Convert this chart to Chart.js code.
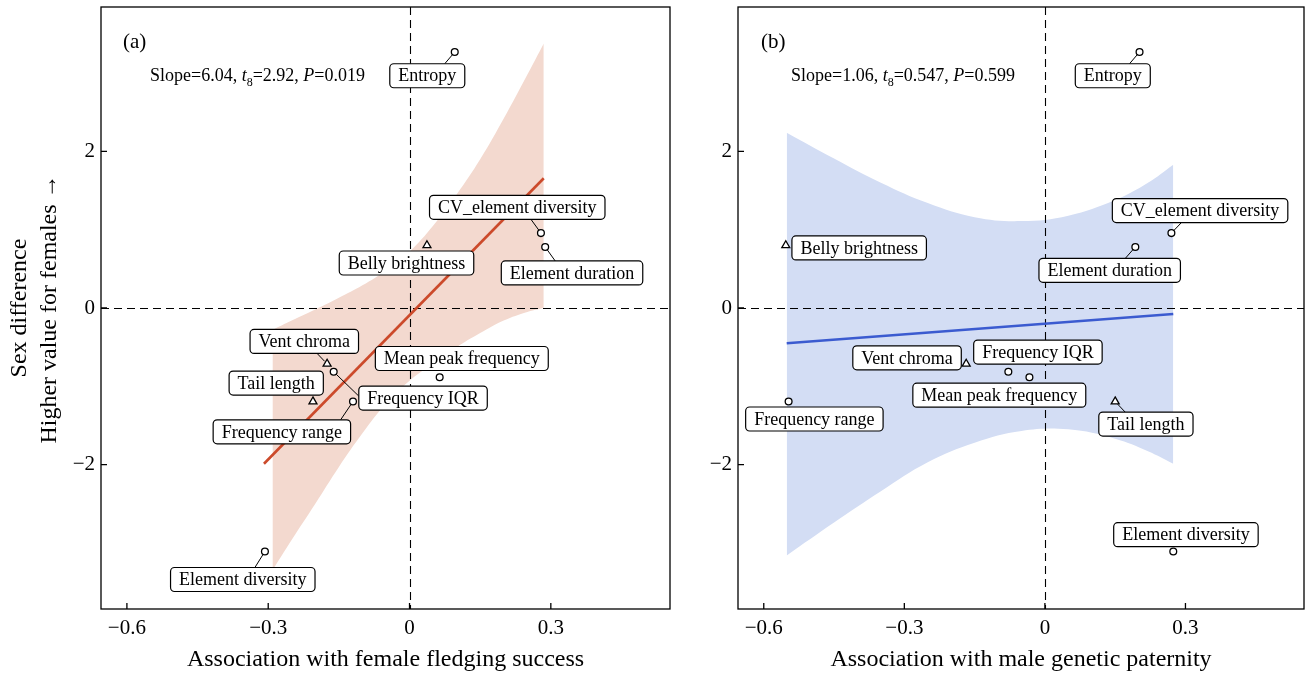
<!DOCTYPE html>
<html>
<head>
<meta charset="utf-8">
<script src="https://cdn.jsdelivr.net/npm/chart.js@4.4.1/dist/chart.umd.min.js"></script>
<style>
  html, body { margin: 0; padding: 0; background: #fff; }
  #wrap { position: relative; width: 1306px; height: 674px; }
  canvas { position: absolute; top: 0; }
  #panelA { left: 0; }
  #panelB { left: 672px; }
</style>
</head>
<body>
<div id="wrap">
  <canvas id="panelA" width="672" height="674"></canvas>
  <canvas id="panelB" width="634" height="674"></canvas>
</div>
<script>
// traits, shared by both panels
const traits = ['Entropy', 'CV_element diversity', 'Element duration', 'Belly brightness', 'Vent chroma',
  'Frequency IQR', 'Mean peak frequency', 'Tail length', 'Frequency range', 'Element diversity'];
const traitShape = ['circle', 'circle', 'circle', 'triangle', 'triangle',
  'circle', 'circle', 'triangle', 'circle', 'circle'];
const sexDiff = [3.27, 0.957, 0.78, 0.80, -0.714, -0.815, -0.884, -1.195, -1.195, -3.11];

// (a) female fledging success
const fledging = [0.096, 0.279, 0.288, 0.037, -0.175, -0.161, 0.064, -0.205, -0.120, -0.307];
const fitAX = [-0.309, 0.285];
const fitAY = [-1.99, 1.657];
const bandAX = [-0.291, -0.25, -0.2, -0.15, -0.1, -0.05, 0, 0.05, 0.1, 0.15, 0.2, 0.25, 0.285];
const bandAUp = [-0.28, -0.16, -0.02, 0.13, 0.29, 0.48, 0.72, 1.05, 1.45, 1.90, 2.42, 2.98, 3.38];
const bandALo = [-3.35, -2.96, -2.50, -2.03, -1.60, -1.22, -0.93, -0.71, -0.50, -0.32, -0.16, -0.05, 0.0];

// (b) male genetic paternity
const paternity = [0.202, 0.270, 0.193, -0.553, -0.168, -0.078, -0.033, 0.150, -0.547, 0.274];
const fitBX = [-0.551, 0.274];
const fitBY = [-0.45, -0.077];
const bandBX = [-0.551, -0.45, -0.35, -0.25, -0.15, -0.05, 0.05, 0.15, 0.22, 0.274];
const bandBUp = [2.24, 1.91, 1.60, 1.34, 1.16, 1.11, 1.18, 1.38, 1.60, 1.83];
const bandBLo = [-3.16, -2.74, -2.34, -1.97, -1.72, -1.57, -1.55, -1.67, -1.83, -1.99];

// ticks
const xTickValues = [-0.6, -0.3, 0, 0.3];
const xTickLabels = ['\u22120.6', '\u22120.3', '0', '0.3'];
const yTickValues = [-2, 0, 2];
const yTickLabels = ['\u22122', '0', '2'];

// where the repelled label boxes sit (box centres, data units)
const labelPosA = [[0.0377, 2.967], [0.2287, 1.286], [0.345, 0.448], [-0.0064, 0.575], [-0.2234, -0.427],
  [0.0287, -1.151], [0.111, -0.645], [-0.283, -0.959], [-0.271, -1.582], [-0.354, -3.468]];
const labelPosB = [[0.1449, 2.967], [0.3312, 1.244], [0.1383, 0.481], [-0.3964, 0.767], [-0.2942, -0.636],
  [-0.0149, -0.563], [-0.0973, -1.113], [0.2156, -1.483], [-0.492, -1.418], [0.301, -2.895]];

const FONT = '"Liberation Serif", "Times New Roman", serif';
const X_MIN = -0.655, X_MAX = 0.553, Y_MIN = -3.845, Y_MAX = 3.845;

function noPad(s) {
  s.paddingTop = 0; s.paddingBottom = 0; s.paddingLeft = 0; s.paddingRight = 0;
}

function drawZeroLines(chart) {
  const {ctx, chartArea: a, scales} = chart;
  const x0 = Math.round(scales.x.getPixelForValue(0)) + 0.5;
  const y0 = Math.round(scales.y.getPixelForValue(0)) + 0.5;
  ctx.save();
  ctx.strokeStyle = '#000';
  ctx.lineWidth = 1.1;
  ctx.setLineDash([8, 5]);
  ctx.beginPath();
  ctx.moveTo(a.left, y0); ctx.lineTo(a.right, y0);
  ctx.moveTo(x0, a.top); ctx.lineTo(x0, a.bottom);
  ctx.stroke();
  ctx.restore();
}

function drawFrame(chart) {
  const {ctx, chartArea: a, scales} = chart;
  ctx.save();
  ctx.strokeStyle = '#000';
  ctx.lineWidth = 1.3;
  ctx.strokeRect(a.left, a.top, a.right - a.left, a.bottom - a.top);
  ctx.beginPath();
  xTickValues.forEach(v => {
    const x = scales.x.getPixelForValue(v);
    ctx.moveTo(x, a.bottom); ctx.lineTo(x, a.bottom - 6);
  });
  yTickValues.forEach(v => {
    const y = scales.y.getPixelForValue(v);
    ctx.moveTo(a.left, y); ctx.lineTo(a.left + 6, y);
  });
  ctx.stroke();
  ctx.restore();
}

function drawLabels(chart, opt) {
  const {ctx, scales} = chart;
  ctx.save();
  ctx.font = '18px ' + FONT;
  traits.forEach((name, i) => {
    const px = scales.x.getPixelForValue(opt.x[i]);
    const py = scales.y.getPixelForValue(sexDiff[i]);
    const bx = scales.x.getPixelForValue(opt.labels[i][0]);
    const by = scales.y.getPixelForValue(opt.labels[i][1]);
    const w = ctx.measureText(name).width + 17;
    const h = 24;
    const x1 = bx - w / 2, x2 = bx + w / 2, y1 = by - h / 2, y2 = by + h / 2;
    let cx = Math.min(Math.max(px, x1), x2);
    let cy = Math.min(Math.max(py, y1), y2);
    const dist = Math.hypot(px - cx, py - cy);
    if (dist > 9) {
      if (Math.abs(py - cy) >= Math.abs(px - cx)) {
        cx += Math.sign(bx - cx) * Math.min(10, Math.abs(bx - cx));
      } else {
        cy += Math.sign(by - cy) * Math.min(10, Math.abs(by - cy));
      }
      const d = Math.hypot(cx - px, cy - py);
      const r = 3.6;
      ctx.strokeStyle = '#000';
      ctx.lineWidth = 1;
      ctx.beginPath();
      ctx.moveTo(px + (cx - px) / d * r, py + (cy - py) / d * r);
      ctx.lineTo(cx, cy);
      ctx.stroke();
    }
    ctx.beginPath();
    ctx.roundRect(x1, y1, w, h, 4);
    ctx.fillStyle = '#fff';
    ctx.fill();
    ctx.lineWidth = 1.2;
    ctx.strokeStyle = '#000';
    ctx.stroke();
    ctx.fillStyle = '#000';
    ctx.textAlign = 'center';
    ctx.textBaseline = 'middle';
    ctx.fillText(name, bx, by + 1);
  });
  ctx.restore();
}

function drawText(chart, opt) {
  const {ctx, chartArea: a} = chart;
  ctx.save();
  ctx.fillStyle = '#000';
  ctx.textBaseline = 'alphabetic';
  ctx.textAlign = 'left';
  ctx.font = '21px ' + FONT;
  ctx.fillText(opt.tag, a.left + opt.tagDx, a.top + 41);
  let x = a.left + opt.statDx;
  const base = a.top + 74;
  opt.stats.forEach(part => {
    let font = '18px ' + FONT, dy = 0;
    if (part.it) font = 'italic 18px ' + FONT;
    if (part.sub) { font = '12px ' + FONT; dy = 5; }
    ctx.font = font;
    ctx.fillText(part.t, x, base + dy);
    x += ctx.measureText(part.t).width;
  });
  if (opt.yTitle) {
    ctx.font = '24px ' + FONT;
    ctx.textAlign = 'center';
    ctx.textBaseline = 'middle';
    opt.yTitle.forEach((t, i) => {
      ctx.save();
      ctx.translate(opt.yTitlePos[i][0], opt.yTitlePos[i][1]);
      ctx.rotate(-Math.PI / 2);
      ctx.fillText(t, 0, 0);
      ctx.restore();
    });
  }
  ctx.restore();
}

function makePanel(id, opt) {
  const pts = opt.x.map((v, i) => ({x: v, y: sexDiff[i]}));
  const fit = opt.fitX.map((v, i) => ({x: v, y: opt.fitY[i]}));
  const up = opt.bandX.map((v, i) => ({x: v, y: opt.bandUp[i]}));
  const lo = opt.bandX.map((v, i) => ({x: v, y: opt.bandLo[i]}));
  const panelPlugin = {
    id: 'panel_' + id,
    beforeDatasetDraw(chart, args) { if (args.index === 1) drawZeroLines(chart); },
    afterDatasetsDraw(chart) { drawFrame(chart); drawLabels(chart, opt); drawText(chart, opt); }
  };
  return new Chart(document.getElementById(id), {
    type: 'scatter',
    data: {
      datasets: [
        {
          data: pts, order: 0,
          pointStyle: c => traitShape[c.dataIndex],
          pointRadius: c => traitShape[c.dataIndex] === 'triangle' ? 4.6 : 3.4,
          pointBackgroundColor: '#fff', pointBorderColor: '#000', pointBorderWidth: 1.3
        },
        {
          type: 'line', data: fit, order: 1, borderColor: opt.lineColor, borderWidth: 2.6,
          pointRadius: 0, fill: false
        },
        {
          type: 'line', data: up, order: 3, borderColor: 'rgba(0,0,0,0)', borderWidth: 0, pointRadius: 0,
          fill: '+1', backgroundColor: opt.bandColor, tension: 0.4
        },
        {
          type: 'line', data: lo, order: 3, borderColor: 'rgba(0,0,0,0)', borderWidth: 0, pointRadius: 0,
          fill: false, tension: 0.4
        }
      ]
    },
    options: {
      responsive: false,
      animation: false,
      devicePixelRatio: 1,
      events: [],
      layout: {autoPadding: false, padding: {top: 7, right: 2, left: 0, bottom: 0}},
      plugins: {legend: {display: false}, tooltip: {enabled: false}},
      scales: {
        x: {
          type: 'linear', min: X_MIN, max: X_MAX,
          afterFit: s => { s.height = 65; noPad(s); },
          afterBuildTicks: s => { s.ticks = xTickValues.map(v => ({value: v})); },
          grid: {display: false, drawTicks: false}, border: {display: false},
          ticks: {
            callback: (v, i) => xTickLabels[i], font: {family: FONT, size: 21}, color: '#000',
            padding: 7, maxRotation: 0, autoSkip: false
          },
          title: {
            display: true, text: opt.xTitle, color: '#000',
            font: {family: FONT, size: 24}, padding: {top: 0, bottom: 0}
          }
        },
        y: {
          type: 'linear', min: Y_MIN, max: Y_MAX,
          afterFit: s => { s.width = opt.yAxisW; noPad(s); },
          afterBuildTicks: s => { s.ticks = yTickValues.map(v => ({value: v})); },
          grid: {display: false, drawTicks: false}, border: {display: false},
          ticks: {
            callback: (v, i) => yTickLabels[i], font: {family: FONT, size: 21}, color: '#000',
            padding: 6, autoSkip: false
          }
        }
      }
    },
    plugins: [panelPlugin]
  });
}

makePanel('panelA', {
  x: fledging, labels: labelPosA,
  fitX: fitAX, fitY: fitAY, bandX: bandAX, bandUp: bandAUp, bandLo: bandALo,
  lineColor: '#cc4a2b', bandColor: '#f3d9cf',
  xTitle: 'Association with female fledging success', yAxisW: 101,
  tag: '(a)', tagDx: 22, statDx: 49,
  stats: [{t: 'Slope=6.04, '}, {t: 't', it: true}, {t: '8', sub: true}, {t: '=2.92, '}, {t: 'P', it: true}, {t: '=0.019'}],
  yTitle: ['Sex difference', 'Higher value for females \u2192'],
  yTitlePos: [[20, 308], [50, 309]]
});

makePanel('panelB', {
  x: paternity, labels: labelPosB,
  fitX: fitBX, fitY: fitBY, bandX: bandBX, bandUp: bandBUp, bandLo: bandBLo,
  lineColor: '#3b5bd0', bandColor: '#d3ddf4',
  xTitle: 'Association with male genetic paternity', yAxisW: 66,
  tag: '(b)', tagDx: 23, statDx: 53,
  stats: [{t: 'Slope=1.06, '}, {t: 't', it: true}, {t: '8', sub: true}, {t: '=0.547, '}, {t: 'P', it: true}, {t: '=0.599'}]
});
</script>
</body>
</html>
